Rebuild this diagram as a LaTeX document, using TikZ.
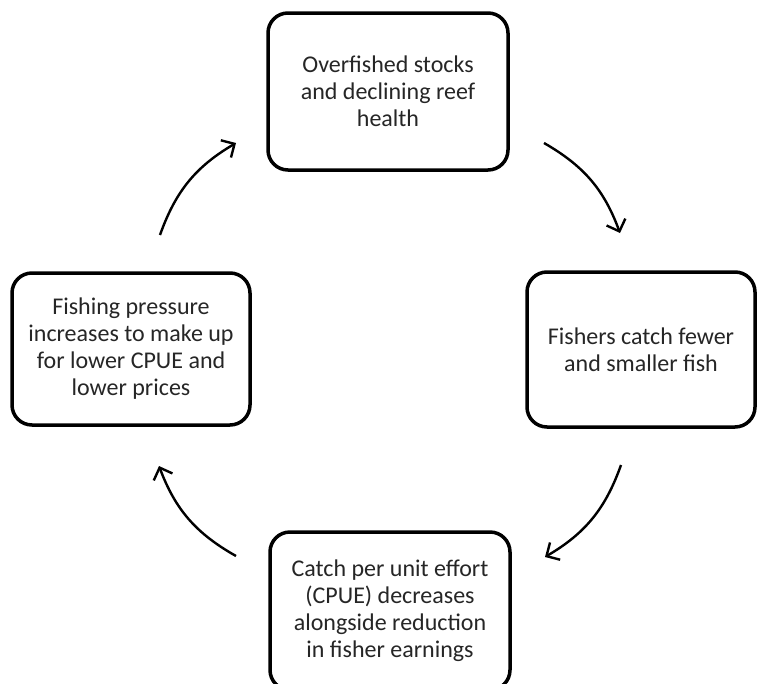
\documentclass[tikz,border=0pt]{standalone}
\usepackage{fontspec}
\setmainfont{Carlito}
\usetikzlibrary{arrows.meta}
\tikzset{
  stage/.style={draw=black, line width=3.5pt, rounded corners=20pt, align=center,
    font=\fontsize{24}{27}\selectfont, text=black!85, inner sep=0pt},
  cyc/.style={line width=2.4pt, -{Straight Barb[length=10pt,width=20pt,line width=2.4pt]}, bend left=20}
}
\begin{document}
\begin{tikzpicture}[x=1pt,y=-1pt]
\clip (0,0) rectangle (763,683);
\fill[white] (0,0) rectangle (763,683);
\node[stage, minimum width=240pt, minimum height=157pt] (top) at (388,91.5)
  {Overfished stocks\\and declining reef\\health};
\node[stage, minimum width=228pt, minimum height=155pt] (right) at (641,349.5)
  {Fishers catch fewer\\and smaller fish};
\node[stage, minimum width=240pt, minimum height=158pt] (bottom) at (390,611)
  {Catch per unit effort\\(CPUE) decreases\\alongside reduction\\in fisher earnings};
\node[stage, minimum width=238pt, minimum height=152pt] (left) at (131,349)
  {Fishing pressure\\increases to make up\\for lower CPUE and\\lower prices};
\coordinate (a1) at (544,143);
\coordinate (a2) at (620,233);
\coordinate (b1) at (621,465);
\coordinate (b2) at (545,557);
\coordinate (c1) at (236,556);
\coordinate (c2) at (159,466);
\coordinate (d1) at (160,235);
\coordinate (d2) at (236,143);
\draw[cyc] (a1) to (a2);
\draw[cyc] (b1) to (b2);
\draw[cyc] (c1) to (c2);
\draw[cyc] (d1) to (d2);
\end{tikzpicture}
\end{document}
